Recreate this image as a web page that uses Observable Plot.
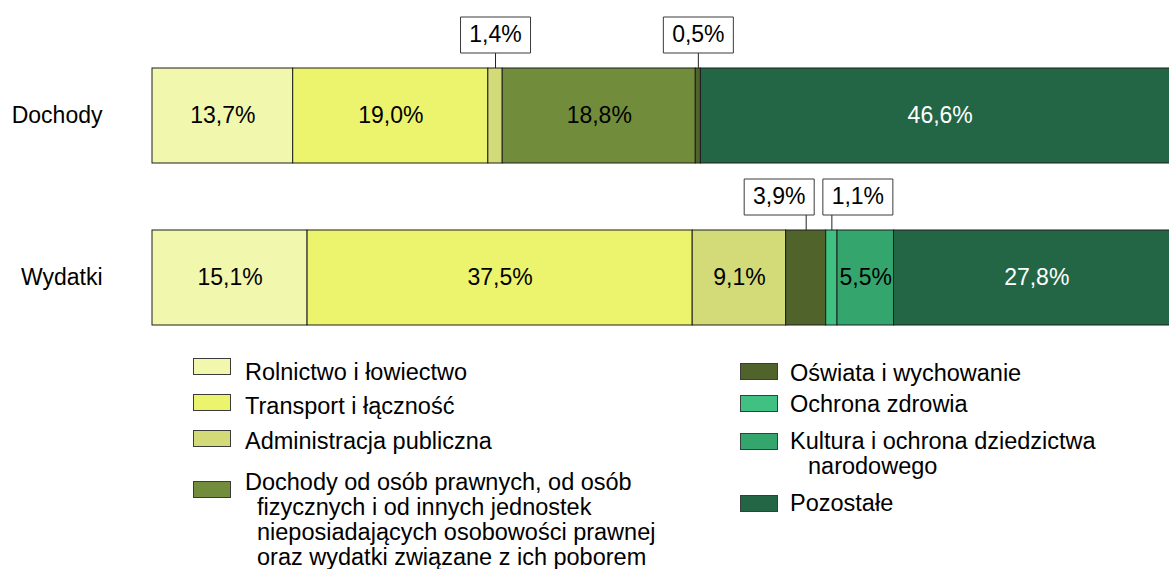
<!DOCTYPE html>
<html>
<head>
<meta charset="utf-8">
<script src="https://cdn.jsdelivr.net/npm/d3@7"></script>
<script src="https://cdn.jsdelivr.net/npm/@observablehq/plot@0.6"></script>
<style>
html, body { margin: 0; padding: 0; background: #fff; overflow: hidden; }
#wrap { position: relative; width: 1169px; height: 569px; font-family: "Liberation Sans", Arial, sans-serif; }
#wrap svg { display: block; }
.lg { position: absolute; font-size: 23.5px; line-height: 25px; color: #000; white-space: nowrap; }
.lg span { display: block; }
.sw { position: absolute; box-sizing: border-box; width: 38px; height: 17px; border: 1px solid #3c3c3c; }
</style>
</head>
<body>
<div id="wrap"></div>
<script>
// ---- data ----
const rows = ["Dochody", "Wydatki"];
const categories = [
  "Rolnictwo i łowiectwo",
  "Transport i łączność",
  "Administracja publiczna",
  "Dochody od osób prawnych, od osób fizycznych i od innych jednostek nieposiadających osobowości prawnej oraz wydatki związane z ich poborem",
  "Oświata i wychowanie",
  "Ochrona zdrowia",
  "Kultura i ochrona dziedzictwa narodowego",
  "Pozostałe"
];
const legendLines = [
  ["Rolnictwo i łowiectwo"],
  ["Transport i łączność"],
  ["Administracja publiczna"],
  ["Dochody od osób prawnych, od osób", "fizycznych i od innych jednostek", "nieposiadających osobowości prawnej", "oraz wydatki związane z ich poborem"],
  ["Oświata i wychowanie"],
  ["Ochrona zdrowia"],
  ["Kultura i ochrona dziedzictwa", "narodowego"],
  ["Pozostałe"]
];
const dochody = [13.7, 19.0, 1.4, 18.8, 0.5, 0, 0, 46.6];
const wydatki = [15.1, 37.5, 9.1, 0, 3.9, 1.1, 5.5, 27.8];
const seriesByRow = [dochody, wydatki];

// ---- styles ----
const colors = ["#f2f7ae", "#ecf46d", "#d3da78", "#718c3a", "#50632a", "#40c182", "#35a56e", "#236645"];
const calloutDx = {"Dochody|2": 0, "Dochody|4": 0, "Wydatki|4": -27, "Wydatki|5": 26};
const FONT = "'Liberation Sans', Arial, sans-serif";

const fmt = v => v.toFixed(1).replace(".", ",") + "%";

const table = [];
rows.forEach((r, ri) => {
  let acc = 0;
  seriesByRow[ri].forEach((v, ci) => {
    if (v > 0) table.push({row: r, ci, category: categories[ci], value: v, x1: acc, x2: acc + v});
    acc += v;
  });
});
const mid = d => (d.x1 + d.x2) / 2;
const inside = table.filter(d => d.value >= 5);
const callouts = table.filter(d => d.value < 5);

const boxSymbol = { draw(ctx) { ctx.rect(-35, -18, 70, 36); } };

const calloutMarks = [];
callouts.forEach(d => {
  const dx = calloutDx[d.row + "|" + d.ci] || 0;
  calloutMarks.push(Plot.dot([d], {x: mid, y: "row", dx, dy: -81, symbol: boxSymbol, fill: "white", stroke: "#3a3a3a", strokeWidth: 1}));
  calloutMarks.push(Plot.text([d], {x: mid, y: "row", dx, dy: -81, text: dd => fmt(dd.value), fontSize: 23, fill: "black"}));
});

const chart = Plot.plot({
  width: 1169,
  height: 340,
  marginLeft: 152,
  marginRight: 0,
  marginTop: 0,
  marginBottom: 0,
  style: {fontFamily: FONT, fontSize: "23px", background: "white", color: "black", overflow: "hidden"},
  x: {domain: [0, 100], range: [152, 1179], axis: null},
  y: {domain: rows, range: [68, 325], paddingInner: 0.4136, paddingOuter: 0},
  color: {domain: categories, range: colors},
  marks: [
    Plot.barX(table, {x1: "x1", x2: "x2", y: "row", fill: "category", stroke: "#1e1e1e", strokeWidth: 1}),
    Plot.text(inside.filter(d => d.ci !== 7), {x: mid, y: "row", text: d => fmt(d.value), fontSize: 23, fill: "black"}),
    Plot.text(inside.filter(d => d.ci === 7), {x: mid, y: "row", text: d => fmt(d.value), fontSize: 23, fill: "white"}),
    Plot.ruleX(callouts, {x: mid, y1: "row", y2: "row", insetTop: -17, insetBottom: 95, stroke: "#222", strokeWidth: 1}),
    ...calloutMarks,
    Plot.axisY({tickSize: 0, tickPadding: 50, fontSize: 23, label: null})
  ]
});

const wrap = document.getElementById("wrap");
wrap.appendChild(chart);

// ---- legend (HTML) ----
const legendLayout = [
  {sx: 193, sy: 358, tx: 245, ty: 360, indent: 12},
  {sx: 193, sy: 394, tx: 245, ty: 394, indent: 12},
  {sx: 193, sy: 430, tx: 245, ty: 429, indent: 12},
  {sx: 193, sy: 481, tx: 245, ty: 470, indent: 12},
  {sx: 740, sy: 363, tx: 790, ty: 361, indent: 18},
  {sx: 740, sy: 395, tx: 790, ty: 392, indent: 18},
  {sx: 740, sy: 433, tx: 790, ty: 429, indent: 18},
  {sx: 740, sy: 495, tx: 790, ty: 491, indent: 18}
];
categories.forEach((c, i) => {
  const L = legendLayout[i];
  const sw = document.createElement("div");
  sw.className = "sw";
  sw.style.left = L.sx + "px";
  sw.style.top = L.sy + "px";
  sw.style.background = colors[i];
  wrap.appendChild(sw);
  const t = document.createElement("div");
  t.className = "lg";
  t.style.left = L.tx + "px";
  t.style.top = L.ty + "px";
  legendLines[i].forEach((line, k) => {
    const s = document.createElement("span");
    s.textContent = line;
    if (k > 0) s.style.paddingLeft = L.indent + "px";
    t.appendChild(s);
  });
  wrap.appendChild(t);
});
</script>
</body>
</html>
